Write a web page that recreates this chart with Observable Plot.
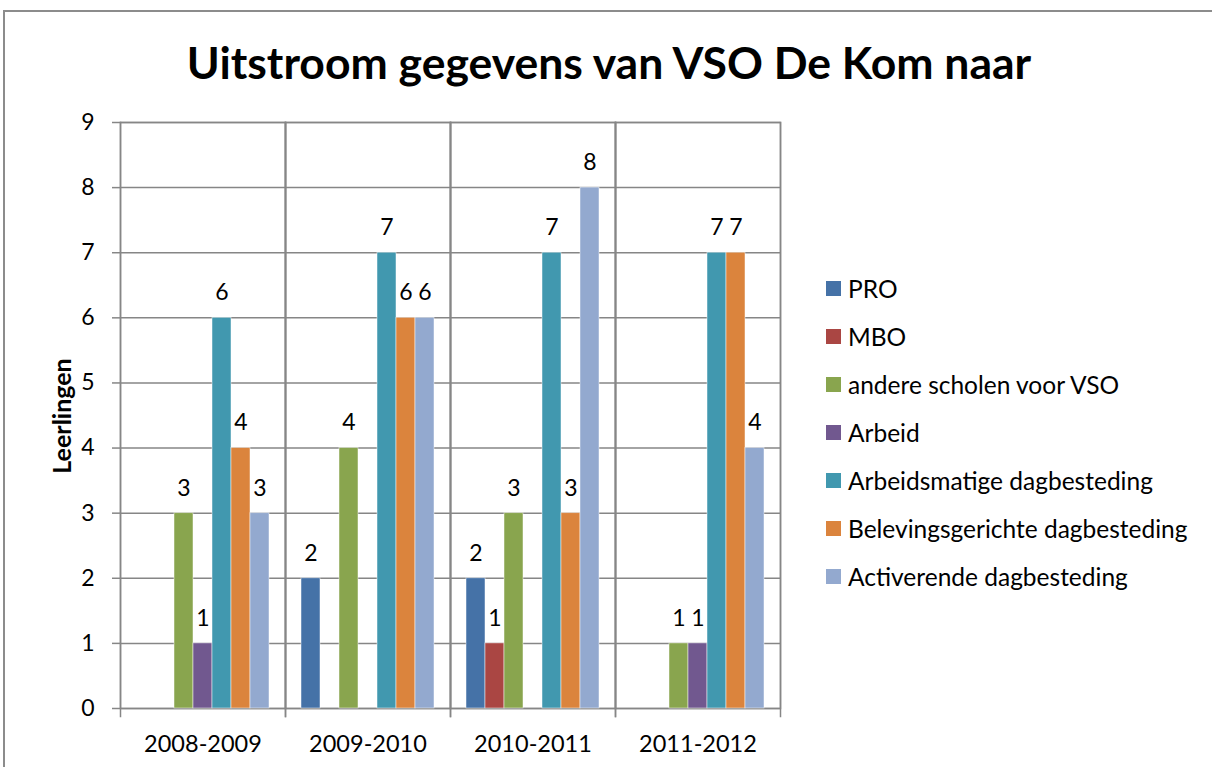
<!DOCTYPE html>
<html>
<head>
<meta charset="utf-8">
<script src="https://cdn.jsdelivr.net/npm/d3@7"></script>
<script src="https://cdn.jsdelivr.net/npm/@observablehq/plot@0.6"></script>
<style>
  html, body { margin: 0; padding: 0; background: #fff; }
  body { width: 1212px; height: 767px; overflow: hidden; position: relative; font-family: Lato, "Open Sans", sans-serif; color: #000; }
  #border { position: absolute; left: 3px; top: 10px; width: 1220px; height: 780px; border: 2px solid #8c8c8c; box-sizing: border-box; }
  #title { position: absolute; left: 0; width: 1218px; top: 34px; text-align: center; font-weight: bold; font-size: 44.5px; line-height: 56px; }
  #ylabel { position: absolute; left: 61px; top: 416px; transform: translate(-50%, -50%) rotate(-90deg); font-weight: bold; font-size: 25px; white-space: nowrap; }
  #chart { position: absolute; left: 0; top: 0; }
  #legend { position: absolute; left: 826px; top: 264px; }
  .item { display: flex; align-items: center; height: 48px; font-size: 24.5px; white-space: nowrap; }
  .sw { width: 15px; height: 15px; margin-right: 7px; flex: none; }
</style>
</head>
<body>
<div id="border"></div>
<div id="title">Uitstroom gegevens van VSO De Kom naar</div>
<div id="ylabel">Leerlingen</div>
<div id="chart"></div>
<div id="legend"></div>
<script>
const years = ["2008-2009", "2009-2010", "2010-2011", "2011-2012"];
const series = ["PRO", "MBO", "andere scholen voor VSO", "Arbeid", "Arbeidsmatige dagbesteding", "Belevingsgerichte dagbesteding", "Activerende dagbesteding"];
const colors = ["#4572A7", "#AA4643", "#89A54E", "#71588F", "#4198AF", "#DB843D", "#93A9CF"];
const yTicks = [0, 1, 2, 3, 4, 5, 6, 7, 8, 9];

const valuesPRO = [0, 2, 2, 0];
const valuesMBO = [0, 0, 1, 0];
const valuesAndere = [3, 4, 3, 1];
const valuesArbeid = [1, 0, 0, 1];
const valuesArbeidsmatige = [6, 7, 7, 7];
const valuesBelevings = [4, 6, 3, 7];
const valuesActiverende = [3, 6, 8, 4];

const seriesValues = [valuesPRO, valuesMBO, valuesAndere, valuesArbeid, valuesArbeidsmatige, valuesBelevings, valuesActiverende];
const data = [];
years.forEach((year, i) => {
  series.forEach((s, j) => data.push({year, series: s, value: seriesValues[j][i]}));
});

const grid = "#868686";
const chart = Plot.plot({
  width: 1212,
  height: 767,
  marginLeft: 120,
  marginRight: 432,
  marginTop: 122,
  marginBottom: 59,
  style: {fontFamily: "Lato, 'Open Sans', sans-serif", fontSize: "23px", color: "#000", background: "transparent"},
  fx: {domain: years, padding: 0, label: null},
  x: {domain: series, paddingInner: 0, paddingOuter: 0.71, axis: null},
  y: {domain: [0, 9], label: null},
  color: {domain: series, range: colors},
  marks: [
    Plot.gridY(yTicks, {stroke: grid, strokeOpacity: 1, strokeWidth: 1.5}),
    Plot.frame({stroke: grid, strokeWidth: 1.5}),
    Plot.frame({anchor: "left", stroke: grid, strokeWidth: 1.5, insetBottom: -8}),
    Plot.frame({anchor: "right", stroke: grid, strokeWidth: 1.5, insetBottom: -8}),
    Plot.axisY(yTicks, {tickSize: 8, tickPadding: 18, tickFormat: d => String(d), stroke: grid, fill: "#000", label: null, fontSize: 23, strokeWidth: 1.5}),
    Plot.axisFx({anchor: "bottom", tickSize: 0, tickPadding: 27, label: null, fontSize: 23.5, fill: "#000"}),
    Plot.barY(data, {fx: "year", x: "series", y: "value", fill: "series", stroke: "#ffffff", strokeOpacity: 0.6, strokeWidth: 0.8}),
    Plot.text(data.filter(d => d.value > 0), {fx: "year", x: "series", y: "value", text: d => String(d.value), dy: -25, fontSize: 23, fill: "#000"})
  ]
});
document.getElementById("chart").appendChild(chart);

const legend = document.getElementById("legend");
series.forEach((s, i) => {
  const item = document.createElement("div");
  item.className = "item";
  const sw = document.createElement("span");
  sw.className = "sw";
  sw.style.background = colors[i];
  const label = document.createElement("span");
  label.textContent = s;
  item.appendChild(sw);
  item.appendChild(label);
  legend.appendChild(item);
});
</script>
</body>
</html>
